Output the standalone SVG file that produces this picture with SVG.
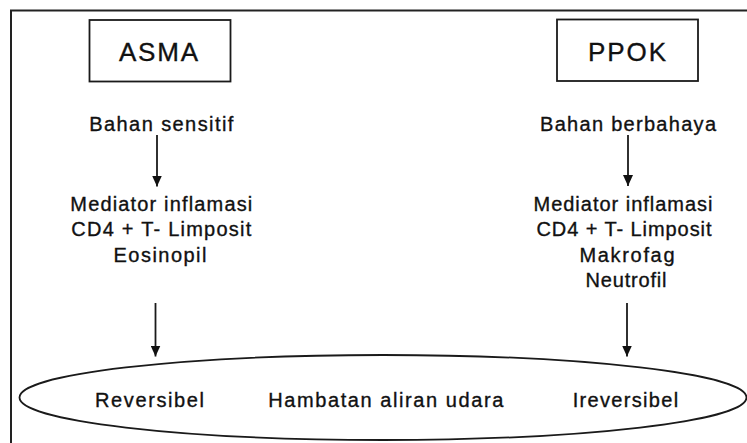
<svg xmlns="http://www.w3.org/2000/svg" width="747" height="443" viewBox="0 0 747 443">
<defs>
<style>
.t{font-family:"Liberation Sans",Arial,sans-serif;font-size:20px;fill:#111;stroke:#111;stroke-width:0.35;text-anchor:middle}
.big{font-size:26px}
.ln{stroke:#1a1a1a;stroke-width:1.8;fill:none}
</style>
<marker id="ah" viewBox="0 0 11 10" refX="11" refY="5" markerWidth="11" markerHeight="10" markerUnits="userSpaceOnUse" orient="auto">
<path d="M0,0 L11,5 L0,10 z" fill="#111"/>
</marker>
</defs>
<rect width="747" height="443" fill="#fff"/>
<rect id="frame" x="11" y="10.5" width="800" height="500" fill="none" stroke="#222" stroke-width="2"/>

<g id="asma">
<rect x="89.5" y="20" width="141" height="61.5" class="ln" stroke-width="2"/>
<text class="t big" x="158.5" y="61" textLength="79" lengthAdjust="spacing">ASMA</text>
</g>
<g id="ppok">
<rect x="557" y="19.5" width="141" height="61.5" class="ln" stroke-width="2"/>
<text class="t big" x="627" y="61" textLength="78" lengthAdjust="spacing">PPOK</text>
</g>

<g id="bahan-sensitif">
<text class="t" x="161.3" y="131" textLength="144" lengthAdjust="spacing">Bahan sensitif</text>
</g>
<g id="bahan-berbahaya">
<text class="t" x="628" y="131" textLength="176" lengthAdjust="spacing">Bahan berbahaya</text>
</g>

<g id="mediator-asma">
<text class="t" x="161.3" y="210.5" textLength="182" lengthAdjust="spacing">Mediator inflamasi</text>
<text class="t" x="161.3" y="236" textLength="180" lengthAdjust="spacing">CD4 + T- Limposit</text>
<text class="t" x="160" y="261.5" textLength="93" lengthAdjust="spacing">Eosinopil</text>
</g>
<g id="mediator-ppok">
<text class="t" x="623" y="210.5" textLength="179" lengthAdjust="spacing">Mediator inflamasi</text>
<text class="t" x="624" y="236" textLength="175" lengthAdjust="spacing">CD4 + T- Limposit</text>
<text class="t" x="627" y="261.5" textLength="95" lengthAdjust="spacing">Makrofag</text>
<text class="t" x="626" y="287" textLength="81" lengthAdjust="spacing">Neutrofil</text>
</g>

<g id="hambatan">
<ellipse cx="383" cy="397.5" rx="363.5" ry="42.5" class="ln" stroke-width="1.8"/>
<text class="t" x="149.5" y="406.5" textLength="109" lengthAdjust="spacing">Reversibel</text>
<text class="t" x="385.8" y="406.5" textLength="235" lengthAdjust="spacing">Hambatan aliran udara</text>
<text class="t" x="625.4" y="406.5" textLength="105.5" lengthAdjust="spacing">Ireversibel</text>
</g>

<g id="connectors">
<line x1="157" y1="135" x2="157" y2="186.5" class="ln" marker-end="url(#ah)"/>
<line x1="628" y1="135" x2="628" y2="186" class="ln" marker-end="url(#ah)"/>
<line x1="155.5" y1="303" x2="155.5" y2="356.5" class="ln" marker-end="url(#ah)"/>
<line x1="627" y1="303" x2="627" y2="356.5" class="ln" marker-end="url(#ah)"/>
</g>
</svg>
